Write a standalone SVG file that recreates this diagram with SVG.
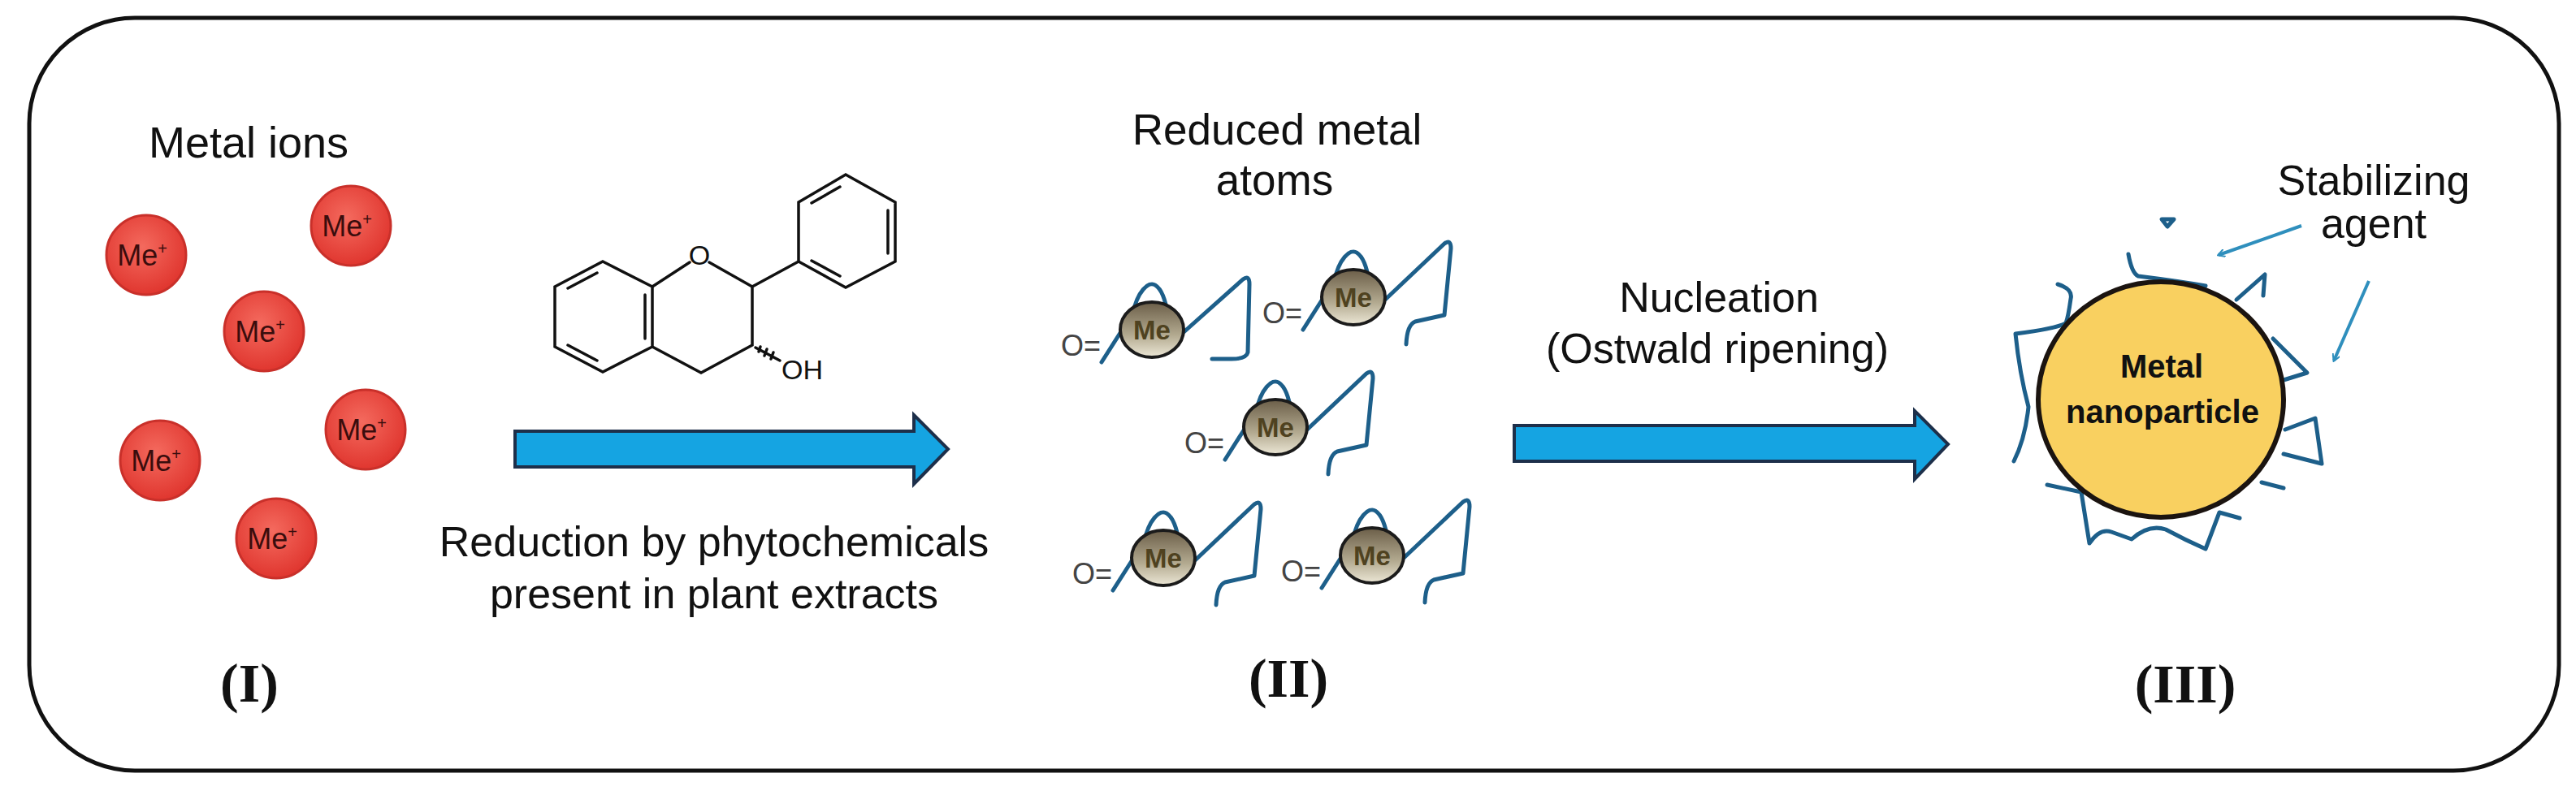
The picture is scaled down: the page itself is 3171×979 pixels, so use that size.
<svg xmlns="http://www.w3.org/2000/svg" width="3171" height="979" viewBox="0 0 3171 979">
<style>
.lbl{font-family:"Liberation Sans",Arial,sans-serif;fill:#111;text-anchor:middle}
.num{font-family:"Liberation Serif","Times New Roman",serif;font-weight:bold;font-size:68px;fill:#111;text-anchor:middle}
.bond{stroke:#111;stroke-width:3.5;fill:none;stroke-linecap:round}
.wig{stroke:#1d5f8a;stroke-width:5;fill:none;stroke-linecap:round;stroke-linejoin:round}
.ion{fill:url(#red);stroke:#c9302a;stroke-width:3}
.iont{font-family:"Liberation Sans",Arial,sans-serif;font-size:36px;fill:#3a0d0d;text-anchor:middle}
.big{fill:#15a4e2;stroke:#1d2f4a;stroke-width:4}
.thin{stroke:#2f8fbd;stroke-width:4;fill:none}
</style>
<defs>
<radialGradient id="red" cx="0.45" cy="0.4" r="0.6"><stop offset="0" stop-color="#f46a5e"/><stop offset="1" stop-color="#e0362f"/></radialGradient>
<linearGradient id="grey" x1="0" y1="0" x2="0" y2="1"><stop offset="0" stop-color="#6b5e48"/><stop offset="0.6" stop-color="#b3aa90"/><stop offset="1" stop-color="#ece7d6"/></linearGradient>
<marker id="ah" markerWidth="10" markerHeight="10" refX="8" refY="5" orient="auto" markerUnits="userSpaceOnUse" viewBox="0 0 10 10"><path d="M0 0 L9 5 L0 10" fill="none" stroke="#2f8fbd" stroke-width="2"/></marker>
<g id="atomF">
<path class="wig" d="M-62 40 L-34 -4 M-24 -18 C-18 -48 -4 -60 4 -55 C12 -50 16 -38 20 -18 M38 4 L112 -62 Q120 -68 120 -56 L118 28 Q116 36 98 36 L74 36"/>
<ellipse rx="39" ry="34" fill="url(#grey)" stroke="#1b1b1b" stroke-width="4"/>
<text x="0" y="12" font-family="Liberation Sans,Arial,sans-serif" font-weight="bold" font-size="33" fill="#4f4220" text-anchor="middle">Me</text>
<text x="-112" y="32" font-family="Liberation Sans,Arial,sans-serif" font-size="36" fill="#444">O=</text>
</g>
<g id="atomH">
<path class="wig" d="M-62 40 L-34 -4 M-24 -18 C-18 -48 -4 -60 4 -55 C12 -50 16 -38 20 -18 M38 4 L112 -66 Q120 -72 120 -60 L112 22 L76 30 Q66 34 65 58"/>
<ellipse rx="39" ry="34" fill="url(#grey)" stroke="#1b1b1b" stroke-width="4"/>
<text x="0" y="12" font-family="Liberation Sans,Arial,sans-serif" font-weight="bold" font-size="33" fill="#4f4220" text-anchor="middle">Me</text>
<text x="-112" y="32" font-family="Liberation Sans,Arial,sans-serif" font-size="36" fill="#444">O=</text>
</g>
</defs>
<rect x="36" y="22" width="3114" height="927" rx="130" ry="130" fill="#fff" stroke="#111" stroke-width="5"/>

<g id="stage1">
<text class="lbl" x="306" y="194" font-size="54">Metal ions</text>
<g id="ion1"><circle class="ion" cx="180" cy="314" r="49"/><text class="iont" x="175" y="327">Me<tspan font-size="20" dy="-14">+</tspan></text></g>
<g id="ion2"><circle class="ion" cx="432" cy="278" r="49"/><text class="iont" x="427" y="291">Me<tspan font-size="20" dy="-14">+</tspan></text></g>
<g id="ion3"><circle class="ion" cx="325" cy="408" r="49"/><text class="iont" x="320" y="421">Me<tspan font-size="20" dy="-14">+</tspan></text></g>
<g id="ion4"><circle class="ion" cx="450" cy="529" r="49"/><text class="iont" x="445" y="542">Me<tspan font-size="20" dy="-14">+</tspan></text></g>
<g id="ion5"><circle class="ion" cx="197" cy="567" r="49"/><text class="iont" x="192" y="580">Me<tspan font-size="20" dy="-14">+</tspan></text></g>
<g id="ion6"><circle class="ion" cx="340" cy="663" r="49"/><text class="iont" x="335" y="676">Me<tspan font-size="20" dy="-14">+</tspan></text></g>
<text class="num" x="307" y="864">(I)</text>
</g>

<g id="molecule">
<path class="bond" d="M742 322 L803 353 L803 427 L742 458 L683 427 L683 353 Z M699 355 L735 336 M794 363 L794 417 M699 425 L735 444 M803 353 L849 323 M873 323 L926 353 L926 425 L863 459 L803 427 M926 353 L983 322 M983 249 L1041 215 L1102 249 L1102 322 L1041 354 L983 322 Z M999 250 L1034 230 M1093 259 L1093 312 M999 321 L1034 340"/>
<path class="bond" stroke-width="2.5" d="M930 428 L960 444 M936 427 L934 433 M944 430 L941 438 M952 434 L949 442"/>
<text x="861" y="326" font-family="Liberation Sans,Arial,sans-serif" font-size="34" fill="#111" text-anchor="middle">O</text>
<text x="962" y="467" font-family="Liberation Sans,Arial,sans-serif" font-size="34" fill="#111">OH</text>
</g>

<g id="stage2">
<text class="lbl" x="1572" y="178" font-size="53">Reduced metal</text>
<text class="lbl" x="1569" y="240" font-size="53">atoms</text>
<use href="#atomF" x="1418" y="406"/>
<use href="#atomH" x="1666" y="366"/>
<use href="#atomH" x="1570" y="526"/>
<use href="#atomH" x="1432" y="687"/>
<use href="#atomH" x="1689" y="684"/>
<text class="num" x="1586" y="858">(II)</text>
</g>

<g id="stage3">
<path class="wig" d="M2668 279 L2661 270 L2676 270 Z" fill="#1d5f8a"/>
<path class="wig" d="M2620 313 Q2624 336 2632 340 Q2680 346 2715 352"/>
<path class="wig" d="M2533 350 Q2552 356 2549 368 Q2546 390 2543 398 Q2530 405 2481 411 Q2486 460 2497 501 Q2493 540 2479 568"/>
<path class="wig" d="M2753 369 L2788 338 L2786 364"/>
<path class="wig" d="M2798 417 L2840 459 L2811 468"/>
<path class="wig" d="M2813 529 L2850 515 L2858 571 L2811 559"/>
<path class="wig" d="M2784 594 L2811 601"/>
<path class="wig" d="M2520 597 L2562 606 L2572 669 Q2585 650 2599 655 L2624 664 Q2645 645 2666 652 Q2690 665 2715 676 L2732 631 L2757 638"/>
<ellipse cx="2660" cy="492" rx="151" ry="145" fill="#f9d060" stroke="#1b1410" stroke-width="6"/>
<text class="lbl" x="2661" y="465" font-size="40" font-weight="bold" fill="#2a1a08">Metal</text>
<text class="lbl" x="2662" y="521" font-size="40" font-weight="bold" fill="#2a1a08">nanoparticle</text>
<text class="lbl" x="2922" y="240" font-size="52">Stabilizing</text>
<text class="lbl" x="2922" y="293" font-size="52">agent</text>
<text class="num" x="2690" y="865">(III)</text>
</g>

<g id="connectors">
<path class="big" d="M634 531 L1125 531 L1125 511 L1167 553 L1125 596 L1125 575 L634 575 Z"/>
<path class="big" d="M1864 524 L2357 524 L2357 506 L2398 547 L2357 590 L2357 568 L1864 568 Z"/>
<line class="thin" x1="2833" y1="278" x2="2731" y2="314" marker-end="url(#ah)"/>
<line class="thin" x1="2916" y1="346" x2="2873" y2="444" marker-end="url(#ah)"/>
<text class="lbl" x="879" y="685" font-size="52">Reduction by phytochemicals</text>
<text class="lbl" x="879" y="749" font-size="52">present in plant extracts</text>
<text class="lbl" x="2116" y="384" font-size="52">Nucleation</text>
<text class="lbl" x="2114" y="447" font-size="52">(Ostwald ripening)</text>
</g>
</svg>
